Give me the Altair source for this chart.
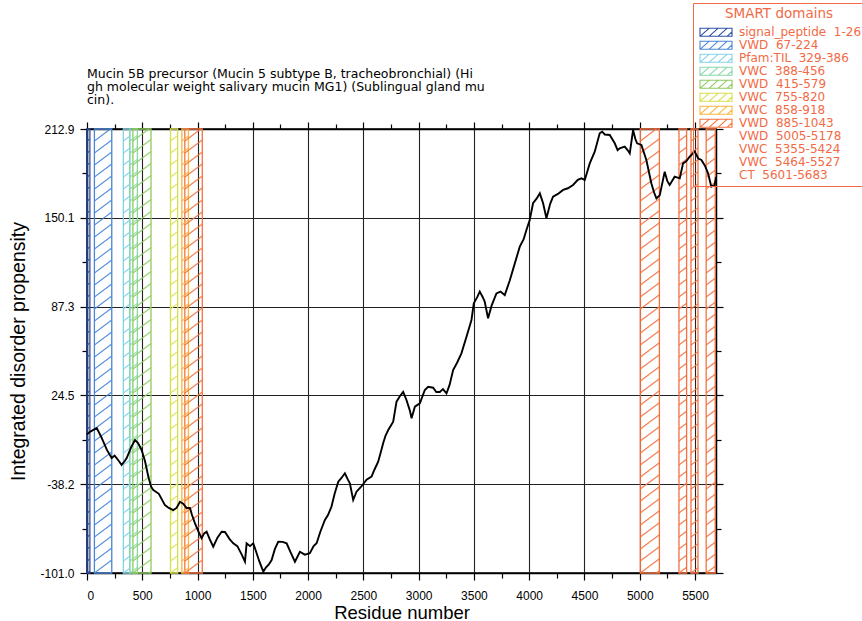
import altair as alt
import pandas as pd

# ---- text ---------------------------------------------------------------
TITLE_LINES = [
    "Mucin 5B precursor (Mucin 5 subtype B, tracheobronchial) (Hi",
    "gh molecular weight salivary mucin MG1) (Sublingual gland mu",
    "cin).",
]
X_TITLE = "Residue number"
Y_TITLE = "Integrated disorder propensity"
LEGEND_TITLE = "SMART domains"

# ---- integrated disorder propensity curve ------------------------------
RESIDUE = [
    0, 30, 88, 130, 180, 223, 250, 290, 313, 340, 359, 400, 434, 460, 494,
    525, 555, 580, 600, 650, 705, 740, 780, 810, 841, 870, 900, 931, 950, 976,
    1010, 1037, 1060, 1082, 1110, 1142, 1180, 1218, 1248, 1290, 1323, 1360,
    1400, 1429, 1444, 1475, 1504, 1530, 1560, 1595, 1620, 1645, 1670, 1700,
    1730, 1770, 1806, 1840, 1881, 1926, 1970, 2016, 2050, 2077, 2110, 2152,
    2180, 2212, 2240, 2273, 2300, 2333, 2360, 2378, 2408, 2438, 2480, 2529,
    2574, 2600, 2634, 2660, 2679, 2700, 2725, 2770, 2800, 2830, 2860, 2890,
    2920, 2936, 2966, 3011, 3056, 3086, 3131, 3160, 3192, 3220, 3252, 3280,
    3312, 3350, 3387, 3433, 3478, 3499, 3530, 3553, 3580, 3598, 3628, 3660,
    3704, 3740, 3779, 3825, 3870, 3915, 3950, 3975, 4005, 4035, 4070, 4096,
    4126, 4156, 4190, 4216, 4260, 4307, 4350, 4397, 4440, 4472, 4503, 4548,
    4593, 4638, 4660, 4684, 4729, 4774, 4800, 4819, 4864, 4890, 4910, 4940,
    4960, 4976, 5015, 5060, 5105, 5130, 5151, 5181, 5226, 5250, 5271, 5316,
    5362, 5392, 5420, 5452, 5497, 5530, 5558, 5590, 5618, 5648, 5678, 5690,
]
PROPENSITY = [
    -3, -1, 1.5, -5, -14, -19.7, -18, -22, -24.6, -22, -19.7, -12, -7, -9, -14,
    -22, -32.9, -40, -42.3, -45, -53, -55, -56.5, -55, -50.6, -52, -55, -55,
    -60, -65.7, -72, -76.3, -73, -71.8, -77, -82.4, -76, -71.8, -72, -77, -80,
    -82, -88, -93, -80, -82, -80, -86, -93, -100, -97, -95, -91.8, -84, -78.9,
    -79, -80, -86, -93, -86, -88, -87, -82, -80, -72, -63.5, -60, -54, -45,
    -36.4, -34, -30.5, -35, -37.6, -49.4, -43.5, -40, -35, -32.9, -28, -22.3,
    -15, -9.3, -4, 0.1, 6, 20.1, 24, 27, 21.3, 14, 8.4, 16.6, 19, 28.4, 30.7,
    30, 27, 27, 29, 26, 32, 42.5, 48, 54.3, 66, 77.9, 89.7, 94, 97.9, 94, 90.8,
    79.1, 88, 96.7, 98, 95.5, 106, 117.9, 129.7, 135, 141.5, 148.6, 160.4, 164,
    167.4, 160.4, 149.8, 160, 165, 167, 169.8, 171, 173.3, 177, 178, 176.9,
    188.6, 196.9, 209.9, 211, 209, 208.7, 202.8, 198, 199.3, 200.4, 198, 195.7,
    212.2, 206, 202.8, 201.6, 191, 174.5, 168, 163.9, 166, 182.7, 176, 173.3,
    179.2, 178, 188.6, 190, 193.3, 196.9, 192, 191, 187, 181.5, 172.1, 173.3,
    179,
]

# ---- SMART domains ------------------------------------------------------
DOMAIN_NAMES = ["signal_peptide", "VWD", "Pfam:TIL", "VWC", "VWD", "VWC",
                "VWC", "VWD", "VWD", "VWC", "VWC", "CT"]
DOMAIN_START = [1, 67, 329, 388, 415, 755, 858, 885, 5005, 5355, 5464, 5601]
DOMAIN_END = [26, 224, 386, 456, 579, 820, 918, 1043, 5178, 5424, 5527, 5683]
DOMAIN_COLORS = ["#2f4fa8", "#4a86d6", "#82d2e6", "#86d8aa", "#8ccc5e",
                 "#d6e04a", "#f9b53c", "#f5713f", "#f5713f", "#f5713f",
                 "#f5713f", "#f5713f"]
SWATCH_COUNT = 8   # only the first eight entries carry a colour key

# ---- axes ---------------------------------------------------------------
X_MAX = 5690
X_TICKS = list(range(0, 5501, 250))
Y_TICKS = [-101.0, -38.2, 24.5, 87.3, 150.1, 212.9]

# ---- layout -------------------------------------------------------------
W, H = 629, 444
PAD = {"left": 87, "top": 129, "right": 146, "bottom": 48}
FONT = "Liberation Sans"
WIDE_FONT = "DejaVu Sans"
RED = "#f26a45"
HATCH_GAP = 12.0     # vertical distance between hatch strokes (px)
HATCH_SLOPE = 0.75   # rise over run of a hatch stroke

Y_MIN, Y_MAX = Y_TICKS[0], Y_TICKS[-1]
y_minor = [(a + b) / 2 for a, b in zip(Y_TICKS[:-1], Y_TICKS[1:])]
Y_ALL = sorted(Y_TICKS + y_minor)

labels = [f"{n}\u00a0 {s}-{e}" for n, s, e in
          zip(DOMAIN_NAMES, DOMAIN_START, DOMAIN_END)]
key_colors = [c if i < SWATCH_COUNT else "transparent"
              for i, c in enumerate(DOMAIN_COLORS)]

curve = pd.DataFrame({"residue": RESIDUE, "propensity": PROPENSITY})
domains = pd.DataFrame({"label": labels, "start": DOMAIN_START,
                        "end": DOMAIN_END, "color": DOMAIN_COLORS})

# diagonal hatch strokes clipped to each domain band
hatch_rows = []
for col, r0, r1 in zip(DOMAIN_COLORS, DOMAIN_START, DOMAIN_END):
    p0, p1 = r0 * W / X_MAX, r1 * W / X_MAX
    d = -HATCH_SLOPE * (p1 - p0)
    d = HATCH_GAP * (int(d // HATCH_GAP))
    while d < H:
        pa = max(p0, p0 - d / HATCH_SLOPE)
        pb = min(p1, p0 + (H - d) / HATCH_SLOPE)
        if pb - pa > 0.3:
            ua = HATCH_SLOPE * (pa - p0) + d
            ub = HATCH_SLOPE * (pb - p0) + d
            hatch_rows.append({
                "color": col,
                "xa": pa * X_MAX / W, "xb": pb * X_MAX / W,
                "ya": Y_MIN + ua * (Y_MAX - Y_MIN) / H,
                "yb": Y_MIN + ub * (Y_MAX - Y_MIN) / H,
            })
        d += HATCH_GAP
hatch = pd.DataFrame(hatch_rows)

x_scale = alt.Scale(domain=[0, X_MAX], nice=False, zero=False)
y_scale = alt.Scale(domain=[Y_MIN, Y_MAX], nice=False, zero=False)

X_MAJOR = "datum.value % 500 === 0"
Y_MAJOR = f"indexof({Y_TICKS}, datum.value) >= 0"


def axis_common(major, values, orient, title_size=19.5, **kw):
    return alt.Axis(
        values=values, orient=orient,
        tickSize={"condition": {"test": major, "value": 7}, "value": 5},
        tickColor="black", tickWidth=1.2,
        domainColor="black", domainWidth=1.5,
        labelFont=FONT, labelFontSize=12, labelColor="black",
        titleFont=FONT, titleFontSize=title_size, titleFontWeight="normal",
        titleColor="black",
        **kw,
    )


x_bottom = axis_common(
    X_MAJOR, X_TICKS, "bottom", title_size=18.5, format="d",
    labelExpr=f"{X_MAJOR} ? datum.label : ''",
    grid=True, gridColor="#222222", gridWidth=1.1,
    gridOpacity={"condition": {"test": X_MAJOR, "value": 1}, "value": 0},
    labelPadding=10, title=X_TITLE, titlePadding=2,
)
y_left = axis_common(
    Y_MAJOR, Y_ALL, "left", format=".1f",
    labelExpr=f"{Y_MAJOR} ? replace(datum.label, '\u2212', '-') : ''",
    grid=True, gridColor="#222222", gridWidth=1.1,
    gridOpacity={"condition": {"test": Y_MAJOR, "value": 1}, "value": 0},
    labelPadding=6, title=Y_TITLE, titlePadding=11,
)
x_top = axis_common(X_MAJOR, X_TICKS, "top", labels=False, grid=False,
                    title=None)
y_right = axis_common(Y_MAJOR, Y_ALL, "right", labels=False, grid=False,
                      title=None)

# hatched swatch: a 32x8 box with diagonal strokes (units of 3 px)
SWATCH = ("M-1,-1.33H9.67V1.33H-1Z M-1,1.33L2,-1.33 M2,1.33L5,-1.33 "
          "M5,1.33L8,-1.33 M8,1.33L9.67,-0.15")

legend = alt.Legend(
    title=LEGEND_TITLE, orient="none", legendX=606, legendY=-126,
    titleFont=WIDE_FONT, titleFontSize=13.5, titleFontWeight="normal",
    titleColor=RED, titleAnchor="middle", titlePadding=6,
    labelFont=WIDE_FONT, labelFontSize=12, labelColor=RED, labelOffset=30,
    symbolType=SWATCH, symbolSize=36, symbolStrokeWidth=1.1,
    symbolFillColor="transparent", symbolOpacity=1, rowPadding=0,
    clipHeight=11.6, strokeColor=RED, padding=4,
)

bands = alt.Chart(domains).mark_rect(filled=False, strokeWidth=1.3).encode(
    x=alt.X("start:Q", scale=x_scale, axis=None),
    x2="end:Q",
    stroke=alt.Stroke("color:N", scale=None),
)

hatches = alt.Chart(hatch).mark_rule(strokeWidth=1.2, opacity=0.9).encode(
    x=alt.X("xa:Q", scale=x_scale, axis=x_top),
    x2="xb:Q",
    y=alt.Y("ya:Q", scale=y_scale, axis=y_right),
    y2="yb:Q",
    stroke=alt.Stroke("color:N", scale=None),
)

# invisible anchors that carry the domain key
keys = alt.Chart(domains).mark_point(filled=False, size=0, opacity=1).encode(
    x=alt.X("start:Q", scale=x_scale, axis=None),
    y=alt.datum(Y_MIN, scale=y_scale, axis=None),
    color=alt.Color("label:N", scale=alt.Scale(domain=labels,
                                               range=key_colors),
                    legend=legend, sort=labels),
)

line = alt.Chart(curve).mark_line(color="black", strokeWidth=1.9).encode(
    x=alt.X("residue:Q", scale=x_scale, axis=x_bottom),
    y=alt.Y("propensity:Q", scale=y_scale, axis=y_left),
)

chart = (
    alt.layer(bands, hatches, keys, line)
    .resolve_axis(x="independent", y="independent")
    .properties(
        width=W, height=H,
        autosize=alt.AutoSizeParams(type="none"),
        padding=PAD,
        background="white",
        title=alt.Title(TITLE_LINES, anchor="start", font=WIDE_FONT,
                        fontSize=12.5, fontWeight="normal", color="black",
                        lineHeight=13, offset=0, dy=104, frame="group"),
    )
    .configure_view(stroke="black", strokeWidth=1.5)
)

chart.save("out.html", embed_options={"renderer": "svg", "actions": False})
